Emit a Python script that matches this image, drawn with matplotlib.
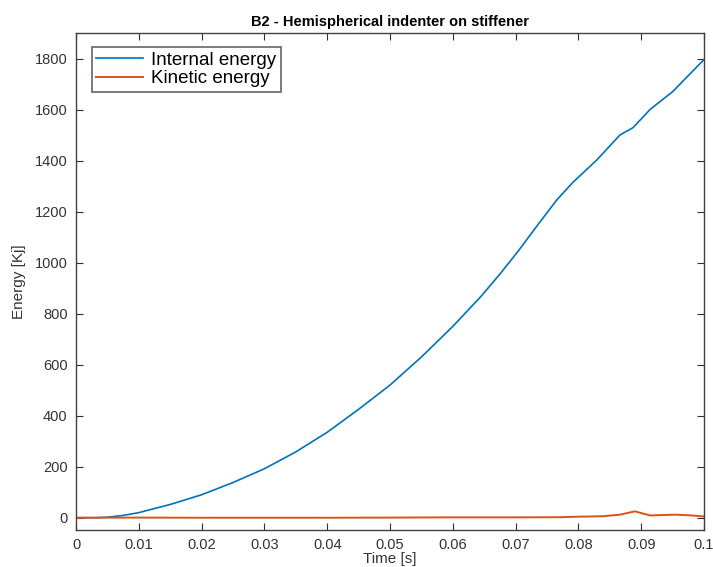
import numpy as np
import matplotlib.pyplot as plt

plt.rcParams['font.family'] = ['Liberation Sans', 'DejaVu Sans']

# --- data ---
t_internal = [0.0, 0.003, 0.005, 0.0075, 0.01, 0.015, 0.02, 0.025, 0.03, 0.035, 0.04,
              0.045, 0.05, 0.055, 0.06, 0.0645, 0.0675, 0.0705, 0.0735, 0.0766, 0.0791, 0.083,
              0.0866, 0.0887, 0.0914, 0.095, 0.1]
e_internal = [0.0, 0.0, 2, 9, 20, 52, 90, 138, 192, 258, 335,
              425, 520, 630, 750, 868, 955, 1048, 1147, 1247, 1314, 1404,
              1500, 1529, 1600, 1670, 1796]

t_kinetic = [0.0, 0.01, 0.02, 0.03, 0.04, 0.05, 0.06, 0.07, 0.077, 0.08, 0.084,
             0.0866, 0.089, 0.0914, 0.0955, 0.098, 0.1]
e_kinetic = [0.0, 0.5, 0.0, 0.0, 0.0, 0.5, 1.5, 1.5, 2, 4, 6,
             12, 25, 9, 12, 9, 5]

x_ticks = [0, 0.01, 0.02, 0.03, 0.04, 0.05, 0.06, 0.07, 0.08, 0.09, 0.1]
x_tick_labels = ['0', '0.01', '0.02', '0.03', '0.04', '0.05', '0.06', '0.07', '0.08', '0.09', '0.1']
y_ticks = [0, 200, 400, 600, 800, 1000, 1200, 1400, 1600, 1800]

fig = plt.figure(figsize=(7.13, 5.67), dpi=100)
ax = fig.add_axes([0.1066, 0.0653, 0.8808, 0.8765])

ax.plot(t_internal, e_internal, color='#0072BD', lw=1.2, label='Internal energy')
ax.plot(t_kinetic, e_kinetic, color='#D95319', lw=1.4, label='Kinetic energy')

ax.set_xlim(0, 0.1)
ax.set_ylim(-48, 1900)
ax.set_xticks(x_ticks)
ax.set_xticklabels(x_tick_labels)
ax.set_yticks(y_ticks)

grey = '#404040'
for s in ax.spines.values():
    s.set_color(grey)
    s.set_linewidth(1.0)
ax.tick_params(direction='in', top=True, right=True, length=5, width=0.8,
               color='#303030', labelcolor='#333333', labelsize=10.5, pad=6)

ax.set_xlabel('Time [s]', fontsize=11, color='#333333', labelpad=0)
ax.set_ylabel('Energy [Kj]', fontsize=11, color='#333333', labelpad=6)
ax.set_title('B2 - Hemispherical indenter on stiffener', fontsize=10.5,
             fontweight='bold', pad=5)

leg = ax.legend(loc='upper left', bbox_to_anchor=(0.025, 0.972), fontsize=13.5,
                frameon=True, fancybox=False, handlelength=2.5, handletextpad=0.4,
                borderpad=0.25, labelspacing=0.08, borderaxespad=0)
leg.get_frame().set_edgecolor(grey)
leg.get_frame().set_linewidth(1.2)

fig.savefig('out.png', dpi=100)
